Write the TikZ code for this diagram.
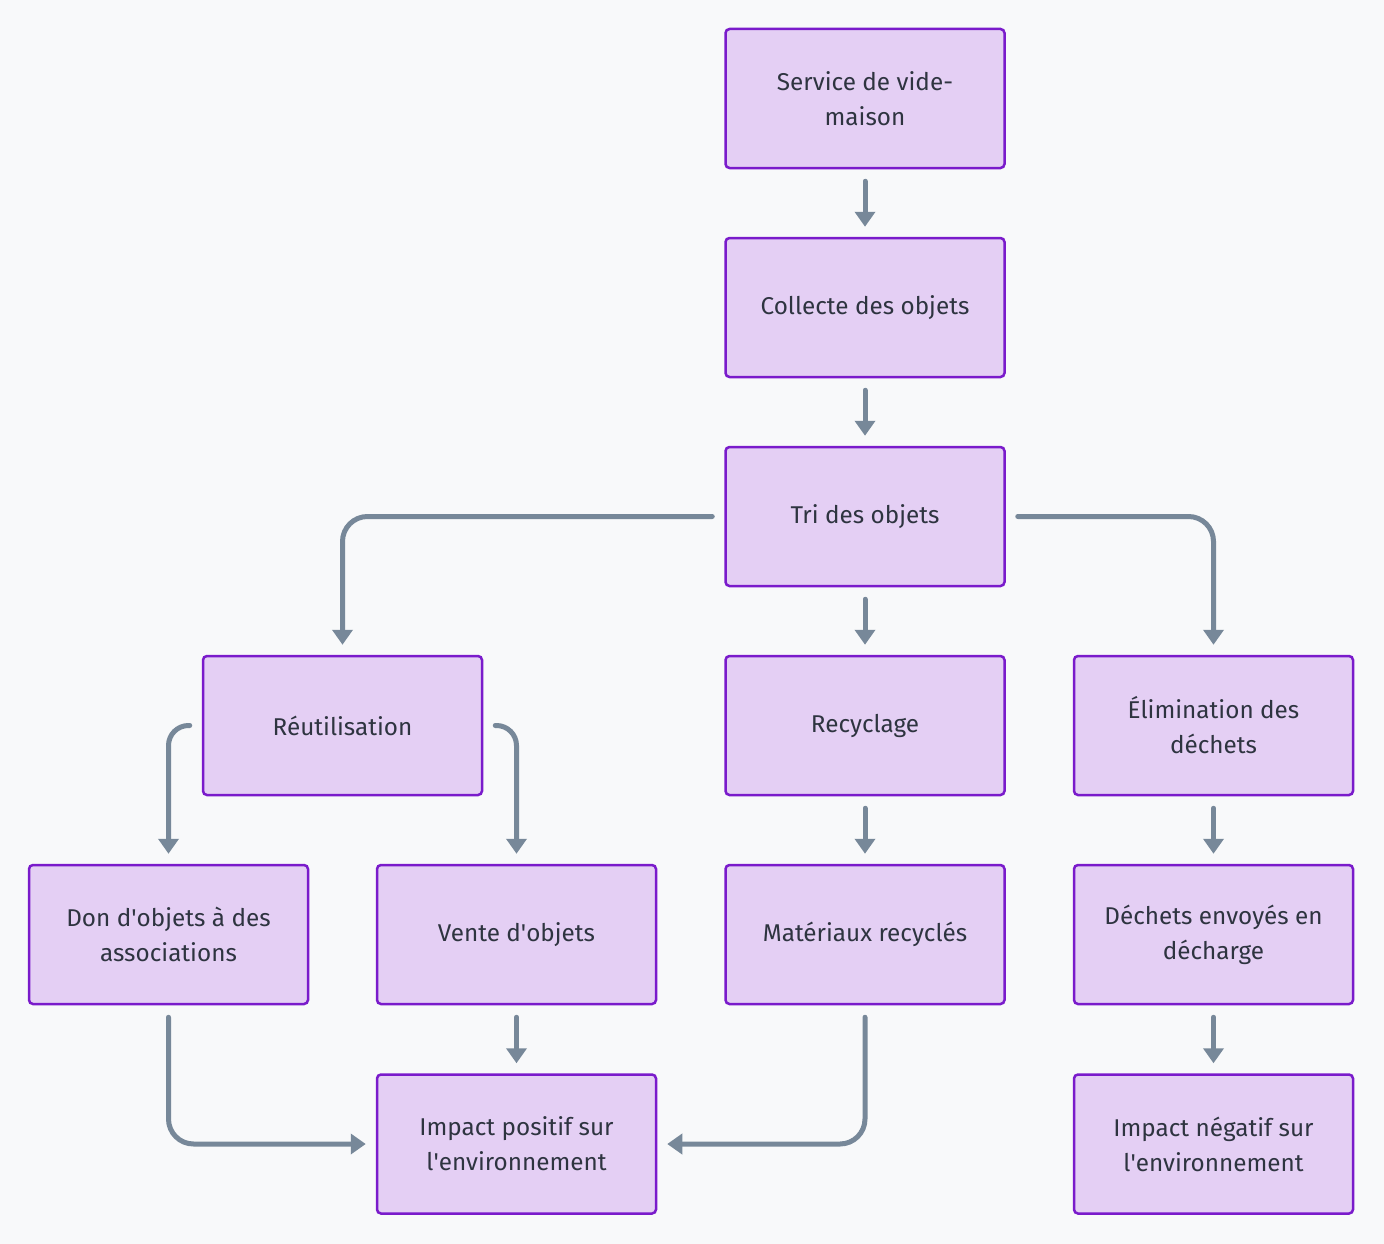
\documentclass[tikz,border=0pt]{standalone}
\usepackage{fontspec}
\setmainfont{Fira Sans}
\usetikzlibrary{arrows.meta}
\definecolor{bgc}{HTML}{F8F9FA}
\definecolor{boxfill}{HTML}{E4CFF4}
\definecolor{boxline}{HTML}{7A1BCB}
\definecolor{arrc}{HTML}{778899}
\definecolor{txtc}{HTML}{2E3440}
\newcommand\apos{\textquotesingle}
\begin{document}
\begin{tikzpicture}[x=1pt,y=-1pt,
  box/.style={draw=boxline, fill=boxfill, line width=2.5pt, rounded corners=4pt,
    minimum width=279pt, minimum height=139pt, align=center, text=txtc,
    font=\fontsize{24.3}{35}\selectfont, inner sep=0pt},
  arr/.style={draw=arrc, line width=5pt, line cap=round, rounded corners=25pt,
    -{Triangle[length=15pt,width=20pt]}, shorten <=12pt, shorten >=10pt},
  arrs/.style={arr, rounded corners=20pt}]
\fill[bgc] (0,0) rectangle (1384,1244);
\node[box] (svc) at (865,98.5) {Service de vide-\\maison};
\node[box] (col) at (865,307.5) {Collecte des objets};
\node[box] (tri) at (865,516.5) {Tri des objets};
\node[box] (reu) at (342.5,725.5) {Réutilisation};
\node[box] (rec) at (865,725.5) {Recyclage};
\node[box] (eli) at (1213.5,725.5) {Élimination des\\déchets};
\node[box] (don) at (168.5,934.5) {Don d\apos objets à des\\associations};
\node[box] (ven) at (516.5,934.5) {Vente d\apos objets};
\node[box] (mat) at (865,934.5) {Matériaux recyclés};
\node[box] (dec) at (1213.5,934.5) {Déchets envoyés en\\décharge};
\node[box] (ipos) at (516.5,1144) {Impact positif sur\\l\apos environnement};
\node[box] (ineg) at (1213.5,1144) {Impact négatif sur\\l\apos environnement};
\draw[arr] (svc.south) -- (col.north);
\draw[arr] (col.south) -- (tri.north);
\draw[arr] (tri.west) -| (reu.north);
\draw[arr] (tri.south) -- (rec.north);
\draw[arr] (tri.east) -| (eli.north);
\draw[arrs] (reu.west) -| (don.north);
\draw[arrs] (reu.east) -| (ven.north);
\draw[arr] (rec.south) -- (mat.north);
\draw[arr] (eli.south) -- (dec.north);
\draw[arr] (don.south) |- (ipos.west);
\draw[arr] (ven.south) -- (ipos.north);
\draw[arr] (mat.south) |- (ipos.east);
\draw[arr] (dec.south) -- (ineg.north);
\end{tikzpicture}
\end{document}
